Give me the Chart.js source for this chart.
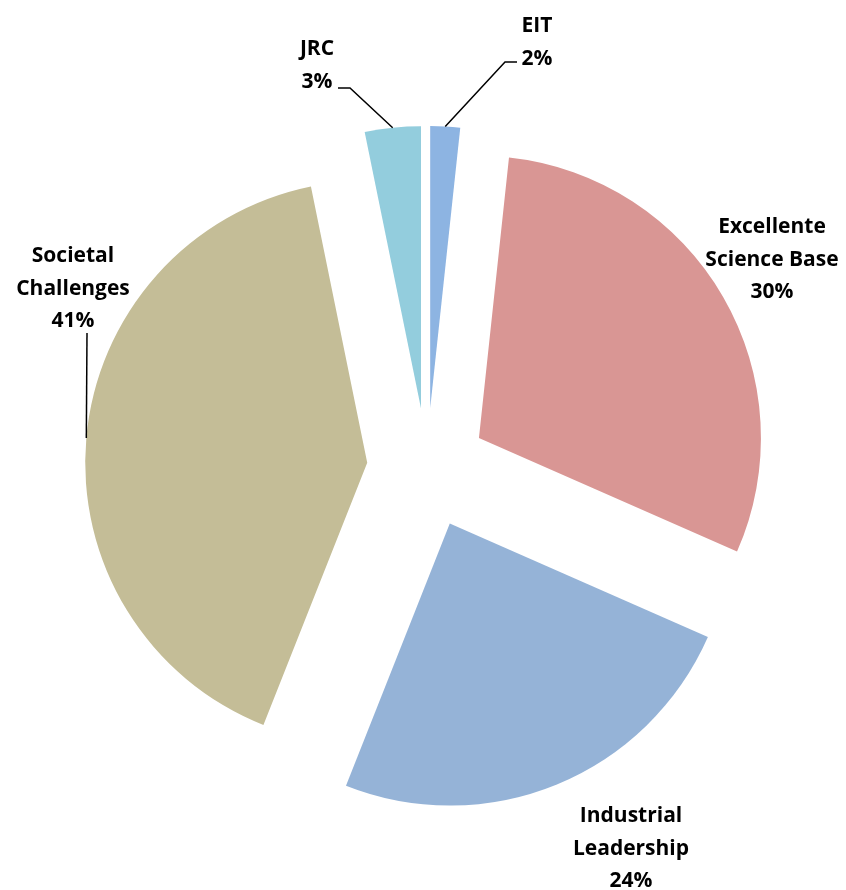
<!DOCTYPE html>
<html>
<head>
<meta charset="utf-8">
<script src="https://cdn.jsdelivr.net/npm/chart.js@4.4.1/dist/chart.umd.min.js"></script>
<style>
  html, body { margin: 0; padding: 0; background: #fff; }
  canvas { display: block; }
</style>
</head>
<body>
<canvas id="orcamento" width="846" height="890"></canvas>
<script>
// dados (percentagens do total)
var categorias = ['EIT', 'Excellente Science Base', 'Industrial Leadership', 'Societal Challenges', 'JRC']
var linhasRotulo = [['EIT'], ['Excellente', 'Science Base'], ['Industrial', 'Leadership'], ['Societal', 'Challenges'], ['JRC']]
var valores = [1.7, 29.9, 24.4, 40.8, 3.2]
var cores = ['#8DB4E2', '#D99694', '#95B3D7', '#C4BD97', '#93CDDD']

// posição dos rótulos (primeira linha de base) e linhas de chamada
var posRotulos = [
  { x: 537, y: 32, chamada: [[505, 62], [517, 62]] },
  { x: 772, y: 233, chamada: null },
  { x: 631, y: 822, chamada: null },
  { x: 73, y: 262, chamada: [[87, 333]] },
  { x: 317, y: 55, chamada: [[350, 88], [338, 88]] },
]
var explodir = 60 // deslocamento das fatias

var explodePlugin = {
  id: 'explode',
  beforeDatasetsDraw: function (chart) {
    chart.getDatasetMeta(0).data.forEach(function (arc) {
      if (arc._explodido) return
      var desenhar = arc.draw
      arc.draw = function (c, area) {
        var meio = (this.startAngle + this.endAngle) / 2
        c.save()
        c.translate(Math.cos(meio) * explodir, Math.sin(meio) * explodir)
        desenhar.call(this, c, area)
        c.restore()
      }
      arc._explodido = true
    })
  },
}

var rotulosPlugin = {
  id: 'rotulos',
  afterDatasetsDraw: function (chart) {
    var c = chart.ctx
    var total = valores.reduce(function (a, b) { return a + b }, 0)
    var arcs = chart.getDatasetMeta(0).data
    c.save()
    c.fillStyle = '#000'
    c.strokeStyle = '#000'
    c.lineWidth = 1.5
    c.font = 'bold 21px "Open Sans", Carlito, Calibri, sans-serif'
    c.textAlign = 'center'
    c.textBaseline = 'alphabetic'
    arcs.forEach(function (arc, i) {
      var p = posRotulos[i]
      if (p.chamada) {
        var meio = (arc.startAngle + arc.endAngle) / 2
        var d = explodir + arc.outerRadius
        c.beginPath()
        c.moveTo(arc.x + Math.cos(meio) * d, arc.y + Math.sin(meio) * d)
        p.chamada.forEach(function (pt) { c.lineTo(pt[0], pt[1]) })
        c.stroke()
      }
      var linhas = linhasRotulo[i].concat([Math.round(valores[i] / total * 100) + '%'])
      linhas.forEach(function (t, k) {
        c.fillText(t, p.x, p.y + k * 32.5)
      })
    })
    c.restore()
  },
}

var ctx = document.getElementById('orcamento').getContext('2d')

var grafico = new Chart(ctx, {
  type: 'pie',
  data: {
    labels: categorias,
    datasets: [
      {
        data: valores,
        backgroundColor: cores,
        borderWidth: 0,
      },
    ],
  },
  options: {
    responsive: false,
    animation: false,
    radius: 282,
    layout: {
      padding: { left: 127, right: 119, top: 168, bottom: 122 },
    },
    plugins: {
      legend: { display: false },
      tooltip: { enabled: false },
    },
  },
  plugins: [explodePlugin, rotulosPlugin],
})
</script>
</body>
</html>
